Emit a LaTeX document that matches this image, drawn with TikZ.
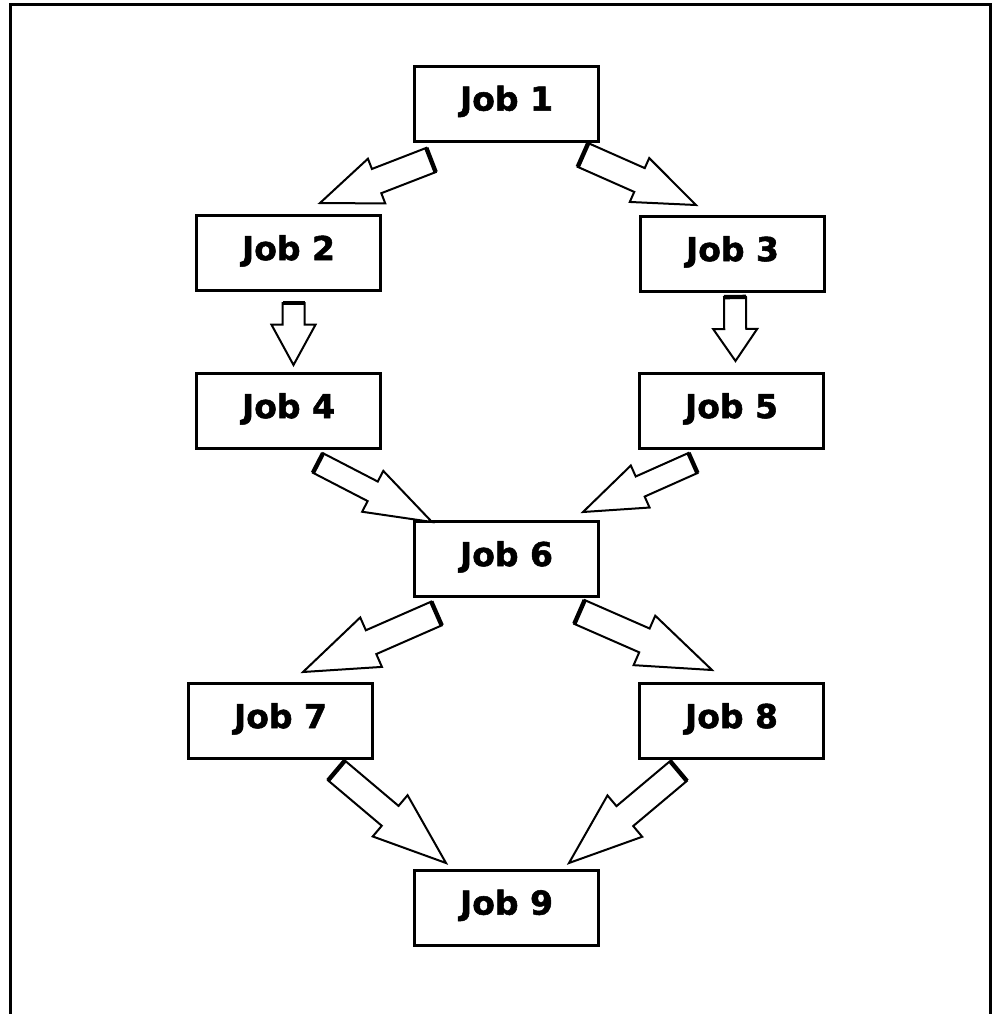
\documentclass[tikz,border=0pt]{standalone}
\usepackage{fontspec}
\setmainfont{DejaVu Sans}
\newfontfamily\jobfont{DejaVu Sans}[BoldFeatures={FakeBold=1.6}]
\usetikzlibrary{calc}
\tikzset{
  jobbox/.style={draw, line width=1.5pt, minimum width=92pt, minimum height=37.5pt,
    font=\jobfont\fontsize{16.5}{20}\selectfont\bfseries, text height=12.4pt, text depth=5.3pt},
  blockarrow/.style={draw, fill=white, line width=1pt, line join=miter}
}
\begin{document}
\begin{tikzpicture}[x=0.5pt,y=-0.5pt]
	\useasboundingbox (0,0) rectangle (993,1014);
	\draw[line width=1.5pt] (10.5,1020) -- (10.5,4.7) -- (990.5,4.7) -- (990.5,1020);
	% jobs
	\node[jobbox] (j1) at (506.5,103.5) {Job 1};
	\node[jobbox] (j2) at (288.5,253) {Job 2};
	\node[jobbox] (j3) at (732.5,254) {Job 3};
	\node[jobbox] (j4) at (288.5,411) {Job 4};
	\node[jobbox] (j5) at (731.5,411) {Job 5};
	\node[jobbox] (j6) at (506.5,559) {Job 6};
	\node[jobbox] (j7) at (280.5,721) {Job 7};
	\node[jobbox] (j8) at (731.5,721) {Job 8};
	\node[jobbox] (j9) at (506.5,907.5) {Job 9};
	% arrow tails and tips
	\coordinate (t12) at (431,160);   \coordinate (h12) at (320,203);
	\coordinate (t13) at (583,155);   \coordinate (h13) at (696,205);
	\coordinate (t24) at (293.5,303); \coordinate (h24) at (293.5,365);
	\coordinate (t35) at (735,297);   \coordinate (h35) at (735.5,361);
	\coordinate (t46) at (318,463);   \coordinate (h46) at (432,522);
	\coordinate (t56) at (693,463);   \coordinate (h56) at (583,512);
	\coordinate (t67) at (436.5,613.5); \coordinate (h67) at (303,672);
	\coordinate (t68) at (579.5,612); \coordinate (h68) at (712,670);
	\coordinate (t79) at (336.5,770.5); \coordinate (h79) at (446,863);
	\coordinate (t89) at (678.5,771); \coordinate (h89) at (569,863);
	\foreach \a/\f/\s/\w in {12/0.49/6.5/12, 13/0.5/6.5/12, 24/0.35/5.5/11, 35/0.5/5.5/11,
		46/0.48/5.5/11.5, 56/0.48/5.5/11.5, 67/0.49/6.5/13.5, 68/0.49/6.5/13.5, 79/0.49/6.5/13.5, 89/0.49/6.5/13.5}{
		\coordinate (b) at ($(t\a)!\f!(h\a)$);
		\draw[blockarrow] ($(t\a)!\s pt!90:(h\a)$) -- ($(b)!\s pt!90:(h\a)$) -- ($(b)!\w pt!90:(h\a)$)
			-- (h\a) -- ($(b)!\w pt!-90:(h\a)$) -- ($(b)!\s pt!-90:(h\a)$) -- ($(t\a)!\s pt!-90:(h\a)$) -- cycle;
		\draw[line width=2.2pt] ($(t\a)!\s pt!90:(h\a)$) -- ($(t\a)!\s pt!-90:(h\a)$);
	}
\end{tikzpicture}
\end{document}
